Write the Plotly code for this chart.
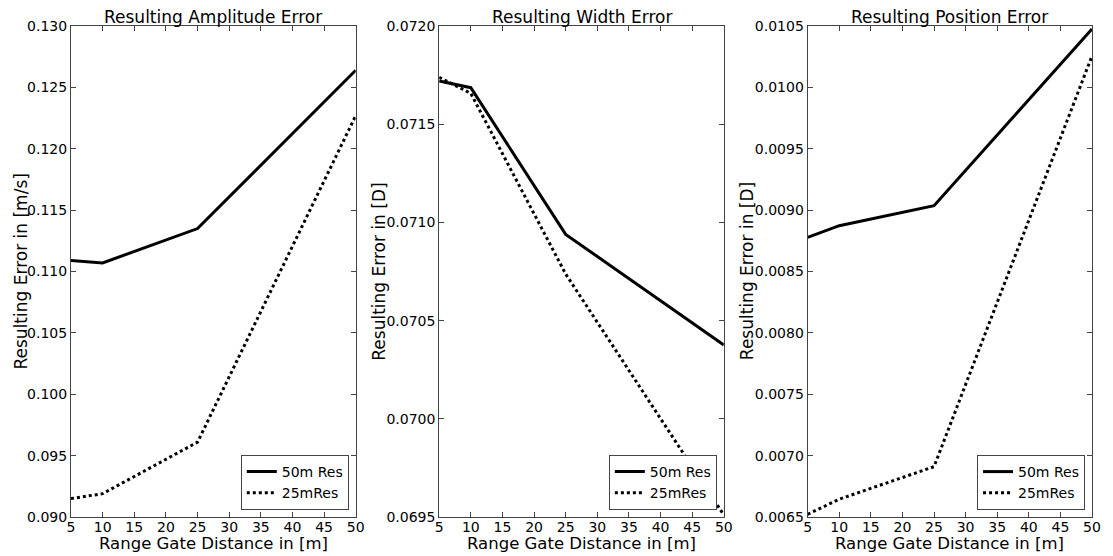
import plotly.graph_objects as go
from plotly.subplots import make_subplots

x_dist = [5, 10, 25, 50]

amp_50m = [0.1109, 0.1107, 0.1135, 0.1264]
amp_25m = [0.0915, 0.0919, 0.0961, 0.1227]

width_50m = [0.07172, 0.071686, 0.070939, 0.070376]
width_25m = [0.071739, 0.071657, 0.070737, 0.06951]

pos_50m = [0.008778, 0.008873, 0.009036, 0.010476]
pos_25m = [0.006522, 0.006645, 0.00691, 0.010256]

titles = ["Resulting Amplitude Error", "Resulting Width Error", "Resulting Position Error"]
ylabels = ["Resulting Error in [m/s]", "Resulting Error in [D]", "Resulting Error in [D]"]
xlabel = "Range Gate Distance in [m]"
series_names = ["50m Res", "25mRes"]
x_ticks = [5, 10, 15, 20, 25, 30, 35, 40, 45, 50]
y_ranges = [(0.090, 0.130), (0.0695, 0.0720), (0.0065, 0.0105)]
y_dticks = [0.005, 0.0005, 0.0005]
y_formats = [".3f", ".4f", ".4f"]

W, H = 1113, 556
ml, mr, mt, mb = 71, 14, 26, 39
pw = W - ml - mr
ph = H - mt - mb
px_domains = [(71, 357.7), (441.7, 728.3), (812.7, 1099)]
ylabel_offsets = [51, 61, 61]
domains = [((a - ml) / pw, (b - ml) / pw) for a, b in px_domains]

fig = make_subplots(rows=1, cols=3)
font_family = "DejaVu Sans"
data = [(amp_50m, amp_25m), (width_50m, width_25m), (pos_50m, pos_25m)]
legend_ids = ["legend", "legend2", "legend3"]

for i, (s50, s25) in enumerate(data):
    fig.add_trace(go.Scatter(x=x_dist, y=s50, mode="lines", name=series_names[0],
                             line=dict(color="black", width=3), legend=legend_ids[i]),
                  row=1, col=i + 1)
    fig.add_trace(go.Scatter(x=x_dist, y=s25, mode="lines", name=series_names[1],
                             line=dict(color="black", width=3, dash="3px,3px"), legend=legend_ids[i]),
                  row=1, col=i + 1)

axis_common = dict(showline=True, linecolor="#444", linewidth=1, mirror="allticks",
                   ticks="inside", ticklen=5, tickcolor="#444", showgrid=False, zeroline=False,
                   tickfont=dict(family=font_family, size=14, color="black"))

annotations = []
layout_legends = {}
for i in range(3):
    xa = "xaxis" if i == 0 else f"xaxis{i+1}"
    ya = "yaxis" if i == 0 else f"yaxis{i+1}"
    fig.layout[xa].update(domain=list(domains[i]), range=[5, 50], tickvals=x_ticks,
                          ticklabelstandoff=-3, **axis_common)
    fig.layout[ya].update(domain=[0, 1], range=list(y_ranges[i]), dtick=y_dticks[i],
                          tick0=y_ranges[i][0], tickformat=y_formats[i], **axis_common)
    x0, x1 = px_domains[i]
    cx = ((x0 + x1) / 2 - ml) / pw
    annotations.append(dict(text=titles[i], xref="paper", yref="paper", x=cx, y=1,
                            xanchor="center", yanchor="bottom", yshift=-3, showarrow=False,
                            font=dict(family=font_family, size=17, color="black")))
    annotations.append(dict(text=xlabel, xref="paper", yref="paper", x=cx, y=0,
                            xanchor="center", yanchor="top", yshift=-15, showarrow=False,
                            font=dict(family=font_family, size=16.5, color="black")))
    annotations.append(dict(text=ylabels[i], xref="paper", yref="paper",
                            x=(x0 - ml) / pw, y=0.5, xanchor="center", yanchor="middle",
                            xshift=-ylabel_offsets[i], showarrow=False, textangle=-90,
                            font=dict(family=font_family, size=17, color="black")))
    layout_legends[legend_ids[i]] = dict(
        x=(x1 - 7 - ml) / pw, y=7 / ph, xanchor="right", yanchor="bottom",
        bordercolor="#444", borderwidth=1, bgcolor="white",
        font=dict(family=font_family, size=14, color="black"),
        itemwidth=30, tracegroupgap=0)

fig.update_layout(width=W, height=H, margin=dict(l=ml, r=mr, t=mt, b=mb),
                  plot_bgcolor="white", paper_bgcolor="white",
                  annotations=annotations, showlegend=True,
                  font=dict(family=font_family, color="black"), **layout_legends)

fig.write_html("out.html")
